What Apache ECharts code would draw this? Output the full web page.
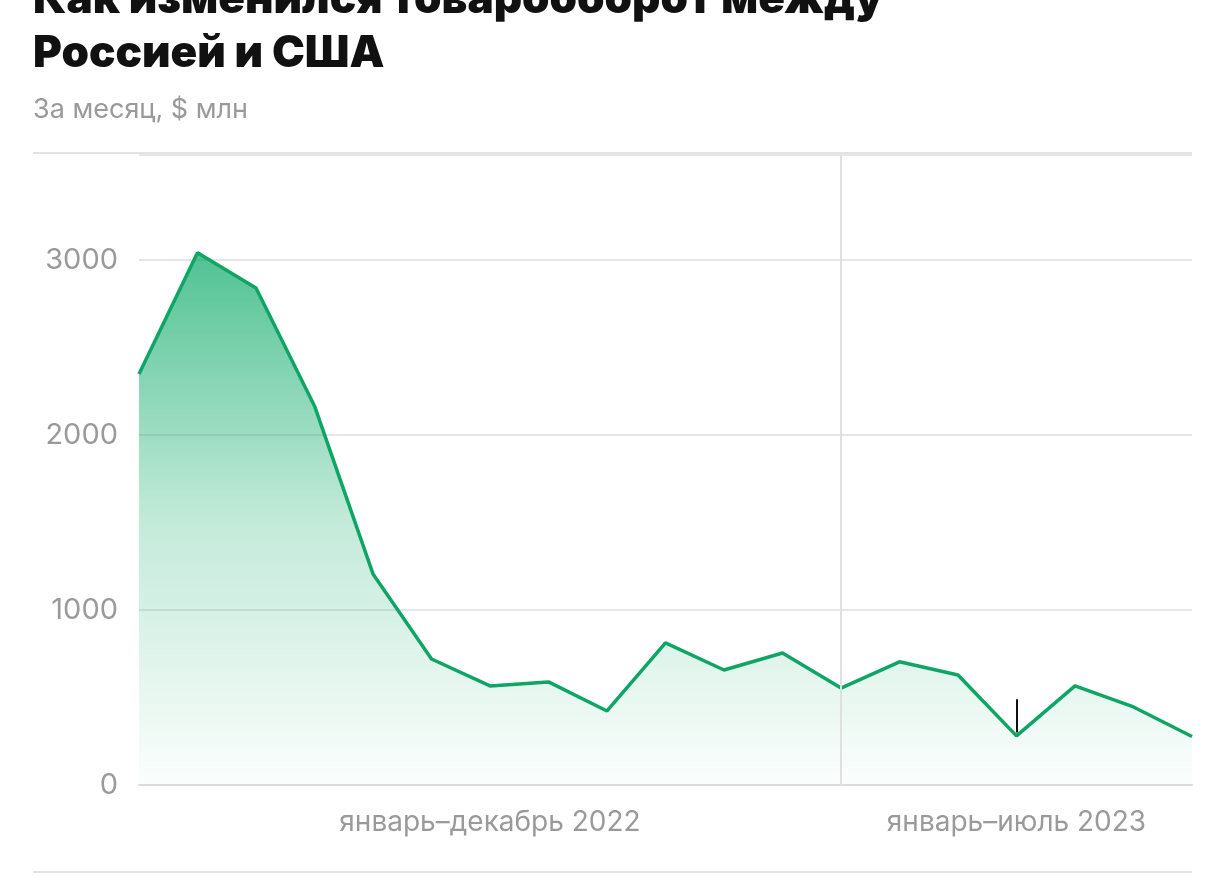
<!DOCTYPE html>
<html><head><meta charset="utf-8">
<script src="https://cdn.jsdelivr.net/npm/echarts@6/dist/echarts.min.js"></script>
<style>html,body{margin:0;padding:0;background:#fff}#c{width:1226px;height:889px}</style>
</head><body><div id="c"></div>
<script>
const months = ['01.22','02.22','03.22','04.22','05.22','06.22','07.22','08.22','09.22','10.22','11.22','12.22','01.23','02.23','03.23','04.23','05.23','06.23','07.23'];
const values = [2349,3041.2,2840,2166,1206,720,566,589,423,811.9,657,754,554,704,629,280.8,566,446,277.3];
const labeled = {1:'3041,2',9:'811,9',13:'704',15:'280,8',18:'277,3'};
const periodLabels = {6:'январь–декабрь 2022',15:'январь–июль 2023'};
const yTicks = [0,1000,2000,3000];
const chart = echarts.init(document.getElementById('c'));
const font = 'Inter, "Noto Sans", sans-serif';
const labelData = Object.keys(labeled).map(k=>{
  const i=+k;
  const d={value:[i,values[i]],label:{formatter:labeled[k]}};
  if(i===15) d.label.distance=52;
  if(i===18) d.label.offset=[-12,0];
  return d;
});
chart.setOption({
  animation:false,
  textStyle:{fontFamily:font},
  graphic:[
    {type:'text',left:33,top:-27,style:{text:'Как изменился товарооборот между\nРоссией и США',font:'900 44px '+font,fill:'#111',lineHeight:54}},
    {type:'text',left:33,top:96,style:{text:'За месяц, $ млн',font:'27px '+font,fill:'#9a9a9a'}},
    {type:'line',shape:{x1:33,y1:153,x2:1192,y2:153},style:{stroke:'#e3e3e3',lineWidth:2}},
    {type:'line',shape:{x1:33,y1:872,x2:1192,y2:872},style:{stroke:'#e3e3e3',lineWidth:2}}
  ],
  grid:{left:139,right:34,top:155,bottom:104},
  xAxis:{type:'category',data:months,boundaryGap:false,
    axisLine:{lineStyle:{color:'#dcdcdc',width:2}},axisTick:{show:false},
    axisLabel:{interval:0,margin:24,fontSize:28,color:'#9a9a9a',formatter:(v,i)=>periodLabels[i]||''}},
  yAxis:{type:'value',min:0,max:3600,interval:1000,
    axisLabel:{fontSize:29,color:'#9a9a9a',margin:21,formatter:v=>yTicks.includes(v)?String(v):''},
    splitLine:{lineStyle:{color:'#e6e6e6',width:2}}},
  series:[{type:'line',data:values,
    symbol:'none',lineStyle:{color:'#0fa566',width:3.5},
    areaStyle:{color:new echarts.graphic.LinearGradient(0,0,0,1,[{offset:0,color:'rgba(6,168,100,1)'},{offset:0.5,color:'rgba(6,168,100,0.35)'},{offset:1,color:'rgba(6,168,100,0.02)'}])},
    markLine:{silent:true,symbol:'none',label:{show:false},
      data:[
        [{coord:[12,0],lineStyle:{color:'#e0e0e0',width:2,type:'solid'}},{coord:[12,3600]}],
        [{coord:[15,300],lineStyle:{color:'#111',width:2,type:'solid'}},{coord:[15,490]}]
      ]}
  },{
    type:'scatter',data:labelData,symbolSize:1,itemStyle:{opacity:0},silent:true,
    label:{show:true,position:'top',distance:18,fontSize:28,color:'#111'}
  }]
});
</script></body></html>
